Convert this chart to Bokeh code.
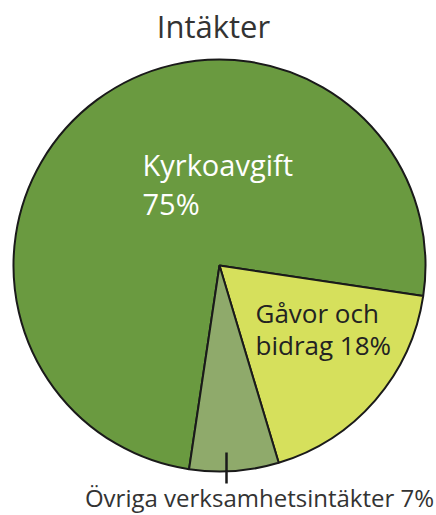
import math
from bokeh.plotting import figure
from bokeh.models import Range1d, ColumnDataSource
from bokeh.core.properties import value
from bokeh.embed import file_html
from bokeh.resources import INLINE

title = "Intäkter"
categories = ["Kyrkoavgift", "Gåvor och bidrag", "Övriga verksamhetsintäkter"]
values = [75, 18, 7]
colors = ["#6a9a40", "#d6e05c", "#8faa6b"]

W, H = 436, 515
CX, CY, R = 219, 250, 206
START_DEG = 261.5
FONT = "Open Sans"

total = sum(values)
starts, ends = [], []
acc = 0.0
for v in values:
    a0 = math.radians(START_DEG - acc / total * 360)
    acc += v
    a1 = math.radians(START_DEG - acc / total * 360)
    starts.append(a0)
    ends.append(a1)

src = ColumnDataSource(dict(cat=categories, val=values, color=colors,
                            start=starts, end=ends))

p = figure(width=W, height=H, output_backend="svg", toolbar_location=None,
           x_range=Range1d(0, W), y_range=Range1d(0, H), min_border=0)
p.axis.visible = False
p.grid.visible = False
p.outline_line_color = None
p.background_fill_color = "white"

p.wedge(x=CX, y=CY, radius=R, start_angle="start", end_angle="end",
        direction="clock", fill_color="color", line_color="#1a1a1a",
        line_width=2, source=src)

# title
p.text(x=[213], y=[490], text=[title], text_font=value(FONT),
       text_font_size="31px", text_color="#333333", text_align="center",
       text_baseline="middle")

# Kyrkoavgift label
p.text(x=[142, 142], y=[351, 312], text=[categories[0], f"{values[0]}%"],
       text_font=value(FONT), text_font_size="29px", text_color="white",
       text_align="left", text_baseline="middle")

# Gåvor label
p.text(x=[255, 255], y=[203, 171], text=["Gåvor och", f"bidrag {values[1]}%"],
       text_font=value(FONT), text_font_size="26px", text_color="#222222",
       text_align="left", text_baseline="middle")

# Övriga label with tick
p.segment(x0=[226], y0=[63], x1=[226], y1=[32], line_color="#1a1a1a", line_width=2.5)
p.text(x=[259], y=[18], text=[f"{categories[2]} {values[2]}%"],
       text_font=value(FONT), text_font_size="24px", text_color="#333333",
       text_align="center", text_baseline="middle")

open("out.html", "w").write(file_html(p, INLINE))
